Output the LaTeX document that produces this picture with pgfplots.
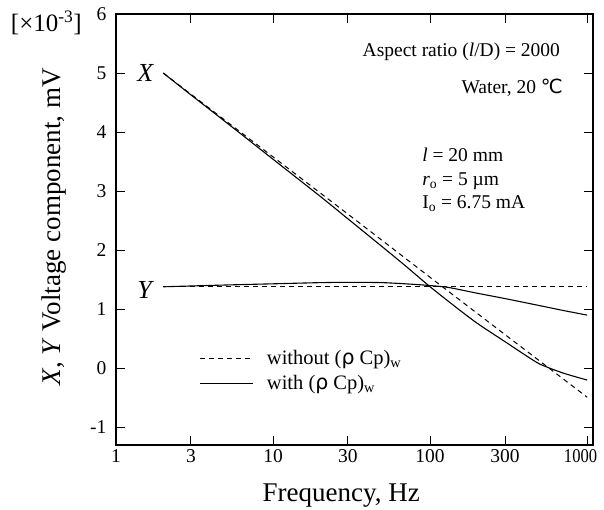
\documentclass[border=0pt]{standalone}
\usepackage{fontspec}
\setmainfont{Liberation Serif}
\newfontfamily\dejavu{DejaVu Sans}
\usepackage{graphicx}
\usepackage{pgfplots}
\pgfplotsset{compat=1.18}
\begin{document}
\begin{tikzpicture}
\begin{axis}[
 scale only axis, width=477pt, height=431pt,
 xmode=log, xmin=1, xmax=1090, ymin=-1.3, ymax=6,
 clip=false,
 xtick={1,3,10,30,100,300,1000},
 xticklabels={1,3,10,30,100,300,{\makebox[32pt][r]{\scalebox{0.85}[1]{1000}\hspace{6pt}}}},
 minor xtick={}, minor ytick={},
 ytick={-1,0,1,2,3,4,5,6}, yticklabels={-1,0,1,2,3,4,5,6},
 tick style={black, line width=1pt}, major tick length=9pt,
 axis line style={line width=1.6pt},
 tick label style={font=\fontsize{19.5}{22}\selectfont},
 xticklabel style={yshift=-1pt},
 yticklabel style={xshift=-6pt},
 xlabel={Frequency, Hz},
 ylabel={\textit{X}, \textit{Y} Voltage component, mV},
 label style={font=\fontsize{27}{30}\selectfont},
 xlabel style={at={(axis description cs:0.472,-0.132)}, anchor=base},
 ylabel style={at={(axis description cs:-0.117,0.506)}, anchor=base},
 legend style={at={(axis description cs:0.176,0.172)}, anchor=west, draw=none, fill=none,
   font=\fontsize{20.5}{23}\selectfont, inner sep=0pt, outer sep=0pt,
   row sep=5pt, nodes={inner sep=2pt}},
 legend cell align=left,
 legend image code/.code={\draw[#1] (0pt,0pt) -- (53pt,0pt);},
]
\addlegendimage{black, line width=1pt, dash pattern=on 5pt off 4pt}
\addlegendentry{\hspace{11pt}without ({\dejavu ρ} Cp)\textsubscript{w}}
\addlegendimage{black, line width=1pt}
\addlegendentry{\hspace{11pt}with ({\dejavu ρ} Cp)\textsubscript{w}}

% X, without (dashed)
\addplot[black, line width=1pt, dash pattern=on 5pt off 4pt, forget plot] coordinates {
(2,5.0) (5,4.19) (10,3.58) (30,2.61) (100,1.54) (300,0.57) (1000,-0.49)};
% Y, without (dashed)
\addplot[black, line width=1pt, dash pattern=on 5pt off 4pt, forget plot] coordinates {
(2,1.38) (10,1.38) (100,1.38) (1000,1.38)};
% X, with (solid)
\addplot[black, line width=1.1pt, smooth, tension=0.4, forget plot] coordinates {
(2,5.0) (3,4.63) (5,4.17) (10,3.54) (20,2.91) (30,2.53) (50,2.05) (70,1.73) (100,1.38)
(150,1.01) (200,0.76) (300,0.45) (400,0.23) (500,0.07) (700,-0.08) (1000,-0.2)};
% Y, with (solid)
\addplot[black, line width=1.1pt, smooth, tension=0.4, forget plot] coordinates {
(2,1.38) (5,1.41) (10,1.43) (20,1.45) (30,1.455) (50,1.45) (80,1.42) (100,1.40)
(130,1.37) (200,1.27) (300,1.18) (500,1.06) (700,0.98) (1000,0.90)};

\node[anchor=east, inner sep=0pt, xshift=-9pt, font=\fontsize{26}{30}\selectfont] at (axis cs:2,5) {\textit{X}};
\node[anchor=east, inner sep=0pt, xshift=-9pt, yshift=-3pt, font=\fontsize{26}{30}\selectfont] at (axis cs:2,1.38) {\textit{Y}};

\node[anchor=base east, inner sep=0pt, font=\fontsize{19.5}{22}\selectfont] at (axis cs:674,5.28) {Aspect ratio (\textit{l}/D) = 2000};
\node[anchor=base east, inner sep=0pt, font=\fontsize{19.5}{22}\selectfont] at (axis cs:703,4.66) {Water, 20 {\dejavu ℃}};
\node[anchor=base west, inner sep=0pt, font=\fontsize{19.5}{22}\selectfont] at (axis cs:89,3.51) {\textit{l} = 20 mm};
\node[anchor=base west, inner sep=0pt, font=\fontsize{19.5}{22}\selectfont] at (axis cs:89,3.10) {\textit{r}\textsubscript{o} = 5 µm};
\node[anchor=base west, inner sep=0pt, font=\fontsize{19.5}{22}\selectfont] at (axis cs:89,2.71) {I\textsubscript{o} = 6.75 mA};

\node[anchor=base east, inner sep=0pt, xshift=-34pt, yshift=-18pt, font=\fontsize{25}{28}\selectfont] at (rel axis cs:0,1) {[×10\textsuperscript{-3}]};
\end{axis}
\pgfresetboundingbox
\path[use as bounding box] ([xshift=-116pt,yshift=-65pt]current axis.south west) rectangle ([xshift=11pt,yshift=14pt]current axis.north east);
\end{tikzpicture}
\end{document}
